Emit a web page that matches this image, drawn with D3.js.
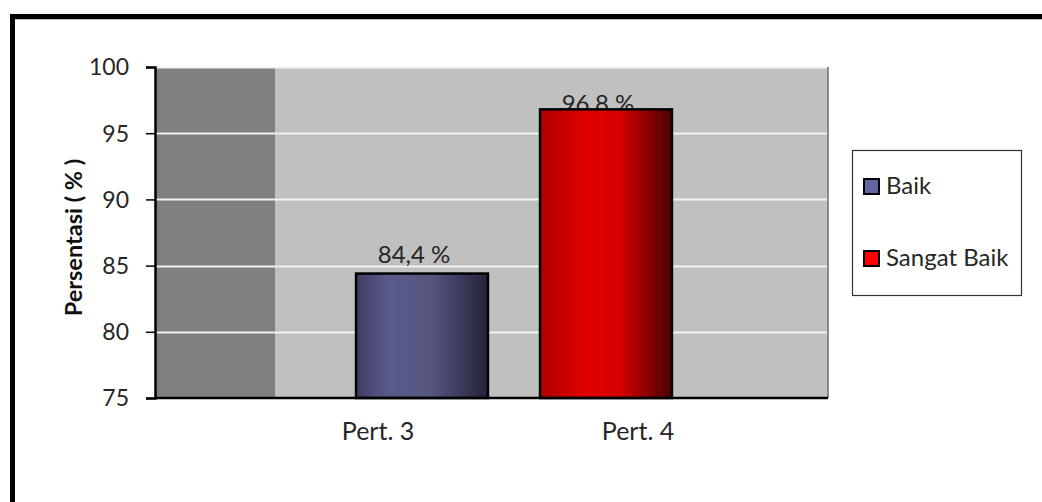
<!DOCTYPE html>
<html>
<head>
<meta charset="utf-8">
<script src="https://cdnjs.cloudflare.com/ajax/libs/d3/7.8.5/d3.min.js"></script>
<style>
  html, body { margin: 0; padding: 0; background: #fff; }
  svg { display: block; font-family: Lato, "Open Sans", sans-serif; }
</style>
</head>
<body>
<svg id="chart"></svg>
<script>
// data
const categories = ['Pert. 3', 'Pert. 4'];
const series = ['Baik', 'Sangat Baik'];
const values = [84.4, 96.8];
const valueLabels = ['84,4 %', '96,8 %'];
const yTicks = [75, 80, 85, 90, 95, 100];

const W = 1042, H = 502;
const plot = { left: 155, top: 67, right: 828, bottom: 398 };

const svg = d3.select('#chart').attr('width', W).attr('height', H);

// gradients for the bars
const defs = svg.append('defs');
const gradStops = [
  [['0%', '#3e3e64'], ['25%', '#5a5a8c'], ['55%', '#575782'], ['100%', '#23233a']],
  [['0%', '#b00000'], ['35%', '#e00000'], ['60%', '#d80000'], ['100%', '#4a0000']]
];
gradStops.forEach((stops, i) => {
  const g = defs.append('linearGradient')
    .attr('id', 'grad' + i)
    .attr('x1', '0%').attr('x2', '100%').attr('y1', '0%').attr('y2', '0%');
  stops.forEach(s => g.append('stop').attr('offset', s[0]).attr('stop-color', s[1]));
});
const legendColors = ['#6464a0', '#ff0000'];

// outer frame (top + left thick border, light shadow)
svg.append('line').attr('x1', 10).attr('x2', W).attr('y1', 19.5).attr('y2', 19.5)
  .attr('stroke', '#bbb').attr('stroke-width', 1);
svg.append('rect').attr('x', 10).attr('y', 14).attr('width', W - 10).attr('height', 5).attr('fill', '#000');
svg.append('rect').attr('x', 10).attr('y', 14).attr('width', 5).attr('height', H - 14).attr('fill', '#000');

// scales
const y = d3.scaleLinear().domain([75, 100]).range([plot.bottom, plot.top]);
const x = d3.scaleBand().domain(categories).range([304, 724]).padding(0.283);
const xLabel = d3.scalePoint().domain(categories).range([378, 638]);

// plot background
svg.append('rect')
  .attr('x', plot.left).attr('y', plot.top)
  .attr('width', plot.right - plot.left).attr('height', plot.bottom - plot.top)
  .attr('fill', '#c0c0c0');
svg.append('rect')
  .attr('x', plot.left).attr('y', plot.top)
  .attr('width', 275 - plot.left).attr('height', plot.bottom - plot.top)
  .attr('fill', '#7f7f7f');

// gridlines
svg.append('g')
  .selectAll('line')
  .data(yTicks.filter(d => d > 75))
  .join('line')
  .attr('x1', plot.left).attr('x2', plot.right)
  .attr('y1', d => Math.round(y(d)) + 0.5).attr('y2', d => Math.round(y(d)) + 0.5)
  .attr('stroke', '#f2f2f2').attr('stroke-width', 2);

// right border of plot
svg.append('line')
  .attr('x1', plot.right).attr('x2', plot.right)
  .attr('y1', plot.top).attr('y2', plot.bottom)
  .attr('stroke', '#8a8a8a').attr('stroke-width', 2);

// value labels (drawn under bars so a bar can clip them)
const labelDy = [-11, 3];
svg.append('g')
  .selectAll('text')
  .data(values)
  .join('text')
  .attr('x', (d, i) => x(categories[i]) + x.bandwidth() / 2 - 8)
  .attr('y', (d, i) => y(d) + labelDy[i])
  .attr('text-anchor', 'middle')
  .attr('font-size', 24)
  .attr('fill', '#262626')
  .text((d, i) => valueLabels[i]);

// bars
svg.append('g')
  .selectAll('rect')
  .data(values)
  .join('rect')
  .attr('x', (d, i) => x(categories[i]))
  .attr('y', d => y(d))
  .attr('width', x.bandwidth())
  .attr('height', d => y(75) - y(d))
  .attr('fill', (d, i) => `url(#grad${i})`)
  .attr('stroke', '#000')
  .attr('stroke-width', 2.5);

// y axis
const yAxis = svg.append('g')
  .attr('transform', `translate(${plot.left},0)`)
  .call(d3.axisLeft(y).tickValues(yTicks).tickSize(9).tickPadding(17));
yAxis.select('.domain').attr('stroke', '#000').attr('stroke-width', 2.5);
yAxis.selectAll('.tick line').attr('stroke', '#000').attr('stroke-width', 1.5);
yAxis.selectAll('.tick text').attr('font-size', 23).attr('fill', '#262626')
  .attr('font-family', 'Lato, sans-serif').attr('dy', '0.34em');

// x axis line
svg.append('line')
  .attr('x1', plot.left).attr('x2', plot.right)
  .attr('y1', plot.bottom).attr('y2', plot.bottom)
  .attr('stroke', '#000').attr('stroke-width', 2.5);

// category labels
svg.append('g')
  .selectAll('text')
  .data(categories)
  .join('text')
  .attr('x', d => xLabel(d))
  .attr('y', 440)
  .attr('text-anchor', 'middle')
  .attr('font-size', 25)
  .attr('fill', '#262626')
  .text(d => d);

// y axis title
svg.append('text')
  .attr('transform', `translate(82,${(plot.top + plot.bottom) / 2 + 5}) rotate(-90)`)
  .attr('text-anchor', 'middle')
  .attr('font-size', 23.5)
  .attr('font-weight', 'bold')
  .attr('fill', '#111')
  .text('Persentasi ( % )');

// legend
const legend = svg.append('g');
legend.append('rect')
  .attr('x', 852.5).attr('y', 150.5).attr('width', 169).attr('height', 145)
  .attr('fill', '#fff').attr('stroke', '#333').attr('stroke-width', 1.2);
const item = legend.selectAll('g.item')
  .data(series)
  .join('g')
  .attr('class', 'item')
  .attr('transform', (d, i) => `translate(864,${179 + i * 72})`);
item.append('rect')
  .attr('width', 15).attr('height', 15)
  .attr('fill', (d, i) => legendColors[i])
  .attr('stroke', '#000').attr('stroke-width', 2);
item.append('text')
  .attr('x', 22).attr('y', 15)
  .attr('font-size', 24)
  .attr('fill', '#262626')
  .text(d => d);
</script>
</body>
</html>
